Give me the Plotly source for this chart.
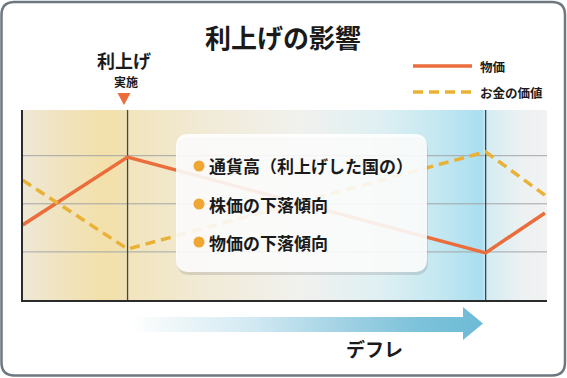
import plotly.graph_objects as go

W, H = 567, 378

# ---- data ----
x_points = [0, 20, 88.3, 99.6]
price = [1.56, 2.97, 0.98, 1.81]          # 物価
money_value = [2.49, 1.06, 3.08, 2.18]    # お金の価値
grid_levels = [1, 2, 3]
event_x = [20, 88.3]
series_names = ["物価", "お金の価値"]
title_text = "利上げの影響"
box_items = ["通貨高（利上げした国の）", "株価の下落傾向", "物価の下落傾向"]
arrow_label = "デフレ"

FONT = "Noto Sans CJK JP"
ORANGE = "#ea6d3b"
YELLOW = "#e9b236"


def px(x):
    return x / W


def py(y):
    return 1 - y / H


def P(x, y):
    return f"{px(x):.5f},{py(y):.5f}"


def rpath(x0, y0, x1, y1, r):
    s = f"M {P(x0 + r, y0)} L {P(x1 - r, y0)} Q {P(x1, y0)} {P(x1, y0 + r)} "
    s += f"L {P(x1, y1 - r)} Q {P(x1, y1)} {P(x1 - r, y1)} "
    s += f"L {P(x0 + r, y1)} Q {P(x0, y1)} {P(x0, y1 - r)} "
    s += f"L {P(x0, y0 + r)} Q {P(x0, y0)} {P(x0 + r, y0)} Z"
    return s


fig = go.Figure()

YMAX = 3.95
# background gradient of plot area
fig.add_trace(go.Scatter(
    x=[0, 100, 100, 0, 0], y=[0, 0, YMAX, YMAX, 0], mode="lines",
    line=dict(width=0), fill="toself", hoverinfo="skip", showlegend=False,
    fillgradient=dict(type="horizontal", colorscale=[
        [0.0, "#eee8d6"], [0.07, "#f0e3c0"], [0.157, "#f3e0aa"],
        [0.195, "#f1e1b2"], [0.199, "#f2e4bb"], [0.34, "#f1ead5"],
        [0.53, "#f1f1ee"], [0.68, "#dff0f3"], [0.80, "#c2e7f1"],
        [0.876, "#a9def0"], [0.884, "#d3ecf2"], [0.95, "#ecf1f2"],
        [1.0, "#f2f2f2"]]),
))

# grid lines
for g in grid_levels:
    fig.add_trace(go.Scatter(x=[0, 100], y=[g, g], mode="lines",
                             line=dict(color="#a3a6a6", width=1),
                             hoverinfo="skip", showlegend=False))
# event vertical lines
for ex in event_x:
    fig.add_trace(go.Scatter(x=[ex, ex], y=[0, YMAX], mode="lines",
                             line=dict(color="#3c4650", width=1.3),
                             hoverinfo="skip", showlegend=False))

fig.add_trace(go.Scatter(x=x_points, y=price, mode="lines", name=series_names[0],
                         line=dict(color=ORANGE, width=3.5), showlegend=False))
fig.add_trace(go.Scatter(x=x_points, y=money_value, mode="lines", name=series_names[1],
                         line=dict(color=YELLOW, width=3.5, dash="10px,6px"),
                         showlegend=False))

# bottom arrow (decoration) on its own pixel axes
ax0, ahead, atip = 130, 463, 483
sy0, sy1, hy0, hy1 = 317, 332, 307, 340
fig.add_trace(go.Scatter(
    x=[ax0, ahead, ahead, atip, ahead, ahead, ax0, ax0],
    y=[sy0, sy0, hy0, (hy0 + hy1) / 2, hy1, sy1, sy1, sy0],
    xaxis="x2", yaxis="y2", mode="lines", line=dict(width=0), fill="toself",
    hoverinfo="skip", showlegend=False,
    fillgradient=dict(type="horizontal", colorscale=[
        [0.0, "#ffffff"], [0.1, "#f1f8fa"], [0.34, "#d3eaf3"],
        [0.62, "#9ed0e3"], [0.82, "#7cc2da"], [1.0, "#6dbbd6"]]),
))

shapes = []
# outer rounded border
shapes.append(dict(type="path", xref="paper", yref="paper", layer="above",
                   path=rpath(1.5, 2, 565, 375.5, 13),
                   line=dict(color="#6d7880", width=2.5), fillcolor="rgba(0,0,0,0)"))
# text box shadow and box
shapes.append(dict(type="path", xref="paper", yref="paper", layer="above",
                   path=rpath(177, 137, 428, 275, 13),
                   line=dict(width=0), fillcolor="rgba(90,90,90,0.18)"))
shapes.append(dict(type="path", xref="paper", yref="paper", layer="above",
                   path=rpath(176, 134, 427, 272, 13),
                   line=dict(width=0), fillcolor="rgba(255,255,255,0.88)"))
# bullets
for yy in [166, 204, 242]:
    shapes.append(dict(type="circle", xref="paper", yref="paper", layer="above",
                       x0=px(193.5), x1=px(204.5), y0=py(yy - 5.5), y1=py(yy + 5.5),
                       line=dict(width=0), fillcolor="#f0a632"))
# marker triangle
shapes.append(dict(type="path", xref="paper", yref="paper", layer="above",
                   path=f"M {P(117.5, 93)} L {P(130.5, 93)} L {P(124, 105)} Z",
                   line=dict(width=0), fillcolor=ORANGE))
# legend samples
shapes.append(dict(type="line", xref="paper", yref="paper",
                   x0=px(413), x1=px(472), y0=py(66), y1=py(66),
                   line=dict(color=ORANGE, width=3.5)))
shapes.append(dict(type="line", xref="paper", yref="paper",
                   x0=px(413), x1=px(472), y0=py(92), y1=py(92),
                   line=dict(color=YELLOW, width=3.5, dash="10px,6px")))

ann = []


def A(text, x, y, size, color="#1a1a1a", xanchor="center", bold=True):
    ann.append(dict(text=f"<b>{text}</b>" if bold else text, x=px(x), y=py(y),
                    xref="paper", yref="paper", showarrow=False,
                    xanchor=xanchor, yanchor="middle",
                    font=dict(family=FONT, size=size, color=color)))


A(title_text, 283, 36, 26)
A("利上げ", 124, 60, 18)
A("実施", 126, 81, 12)
A(series_names[0], 478, 67, 12.5, xanchor="left")
A(series_names[1], 478, 92, 12.5, xanchor="left")
for t, yy in zip(box_items, [166, 204, 242]):
    A(t, 207, yy, 17, xanchor="left")
A(arrow_label, 374, 348, 19)

fig.update_layout(
    width=W, height=H, margin=dict(l=0, r=0, t=0, b=0),
    paper_bgcolor="white", plot_bgcolor="rgba(0,0,0,0)",
    showlegend=False, shapes=shapes, annotations=ann,
    xaxis=dict(domain=[22.7 / W, 547 / W], range=[0, 100], showgrid=False,
               zeroline=False, showticklabels=False, ticks="", showline=True,
               linecolor="#2b2b2b", linewidth=1.6, fixedrange=True),
    yaxis=dict(domain=[py(300), py(110)], range=[0, YMAX], showgrid=False,
               zeroline=False, showticklabels=False, ticks="", showline=True,
               linecolor="#2b2b2b", linewidth=1.6, fixedrange=True),
    xaxis2=dict(domain=[0, 1], range=[0, W], visible=False, fixedrange=True),
    yaxis2=dict(domain=[py(345), py(302)], range=[345, 302], visible=False,
                fixedrange=True),
)

fig.write_html("out.html", config={"displayModeBar": False})
